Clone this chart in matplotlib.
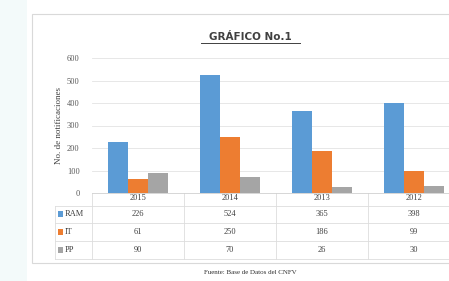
import matplotlib
matplotlib.use("Agg")
import matplotlib.pyplot as plt
from matplotlib.patches import Rectangle
import numpy as np

years = ["2015", "2014", "2013", "2012"]
series_names = ["RAM", "IT", "PP"]
ram = [226, 524, 365, 398]
it = [61, 250, 186, 99]
pp = [90, 70, 26, 30]
colors = ["#5B9BD5", "#ED7D31", "#A5A5A5"]
yticks = [0, 100, 200, 300, 400, 500, 600]

W, H = 449, 281
fig = plt.figure(figsize=(W / 100, H / 100), dpi=100)
fig.patch.set_facecolor("white")

def fx(px):
    return px / W

def fy(py):
    return 1 - py / H

# left strip background
fig.add_artist(Rectangle((0, 0), fx(27), 1, transform=fig.transFigure,
                         facecolor="#F3FAFA", edgecolor="none", zorder=-5))
# card
fig.add_artist(Rectangle((fx(32), fy(263)), fx(430), fy(14) - fy(263),
                         transform=fig.transFigure, facecolor="white",
                         edgecolor="#D9D9D9", lw=0.8, zorder=-5))

ax = fig.add_axes([fx(92), fy(193), fx(368), fy(58) - fy(193)])
ax.set_zorder(2)
ax.set_facecolor("none")
x = np.arange(len(years))
bw = 0.22
vals = [ram, it, pp]
for i, (v, c) in enumerate(zip(vals, colors)):
    ax.bar(x + (i - 1) * bw, v, bw, color=c, zorder=3)

ax.set_xlim(-0.5, len(years) - 0.5)
ax.set_ylim(0, 600)
ax.set_yticks(yticks)
ax.set_yticklabels([str(t) for t in yticks], fontsize=6, color="#595959",
                   family="Liberation Serif")
ax.set_xticks([])
ax.grid(axis="y", color="#E3E3E3", lw=0.6, zorder=0)
for s in ["top", "right", "left"]:
    ax.spines[s].set_visible(False)
ax.spines["bottom"].set_color("#D0D0D0")
ax.spines["bottom"].set_linewidth(0.6)
ax.tick_params(axis="y", length=0, pad=9)
ax.set_ylabel("No. de notificaciones", fontsize=6.5, color="#404040",
              family="Liberation Serif", labelpad=3)

# data table
trans = ax.get_xaxis_transform()
row_y = [198, 214, 232, 250]
def ay(py):
    return (193 - py) / (193 - 58)

for i, yr in enumerate(years):
    ax.text(i, ay(row_y[0]), yr, transform=trans, ha="center", va="center",
            fontsize=6, color="#404040", family="Liberation Serif", clip_on=False)
for r, (name, v, c) in enumerate(zip(series_names, vals, colors)):
    yy = ay(row_y[r + 1])
    for i, val in enumerate(v):
        ax.text(i, yy, str(val), transform=trans, ha="center", va="center",
                fontsize=6, color="#404040", family="Liberation Serif", clip_on=False)
    fig.add_artist(Rectangle((fx(58), fy(row_y[r + 1] + 2.5)), fx(5), fy(0) - fy(5),
                             transform=fig.transFigure, facecolor=c, edgecolor="none"))
    fig.text(fx(65), fy(row_y[r + 1]), name, ha="left", va="center",
             fontsize=6, color="#404040", family="Liberation Serif")

# table lines
line_kw = dict(color="#DDDDDD", lw=0.6, transform=fig.transFigure)
fig.add_artist(plt.Line2D([fx(55), fx(55)], [fy(206), fy(259)], **line_kw))
for yy in [206, 223, 241, 259]:
    fig.add_artist(plt.Line2D([fx(55), 1], [fy(yy), fy(yy)], **line_kw))
for i in range(len(years) - 1):
    ax.plot([i + 0.5, i + 0.5], [ay(193), ay(259)], transform=trans,
            color="#DDDDDD", lw=0.6, clip_on=False)
ax.plot([-0.5, -0.5], [ay(193), ay(259)], transform=trans,
        color="#DDDDDD", lw=0.6, clip_on=False)

# title
fig.text(fx(250), fy(37), "GRÁFICO No.1", ha="center", va="center",
         fontsize=7.5, fontweight="bold", color="#404040", family="DejaVu Sans")
fig.add_artist(plt.Line2D([fx(201), fx(300)], [fy(43), fy(43)], color="#404040",
                          lw=0.7, transform=fig.transFigure))

# source
fig.text(fx(250), fy(273), "Fuente: Base de Datos del CNFV", ha="center",
         va="center", fontsize=5, color="#303030", family="Liberation Serif")

fig.savefig("out.png", dpi=100)
